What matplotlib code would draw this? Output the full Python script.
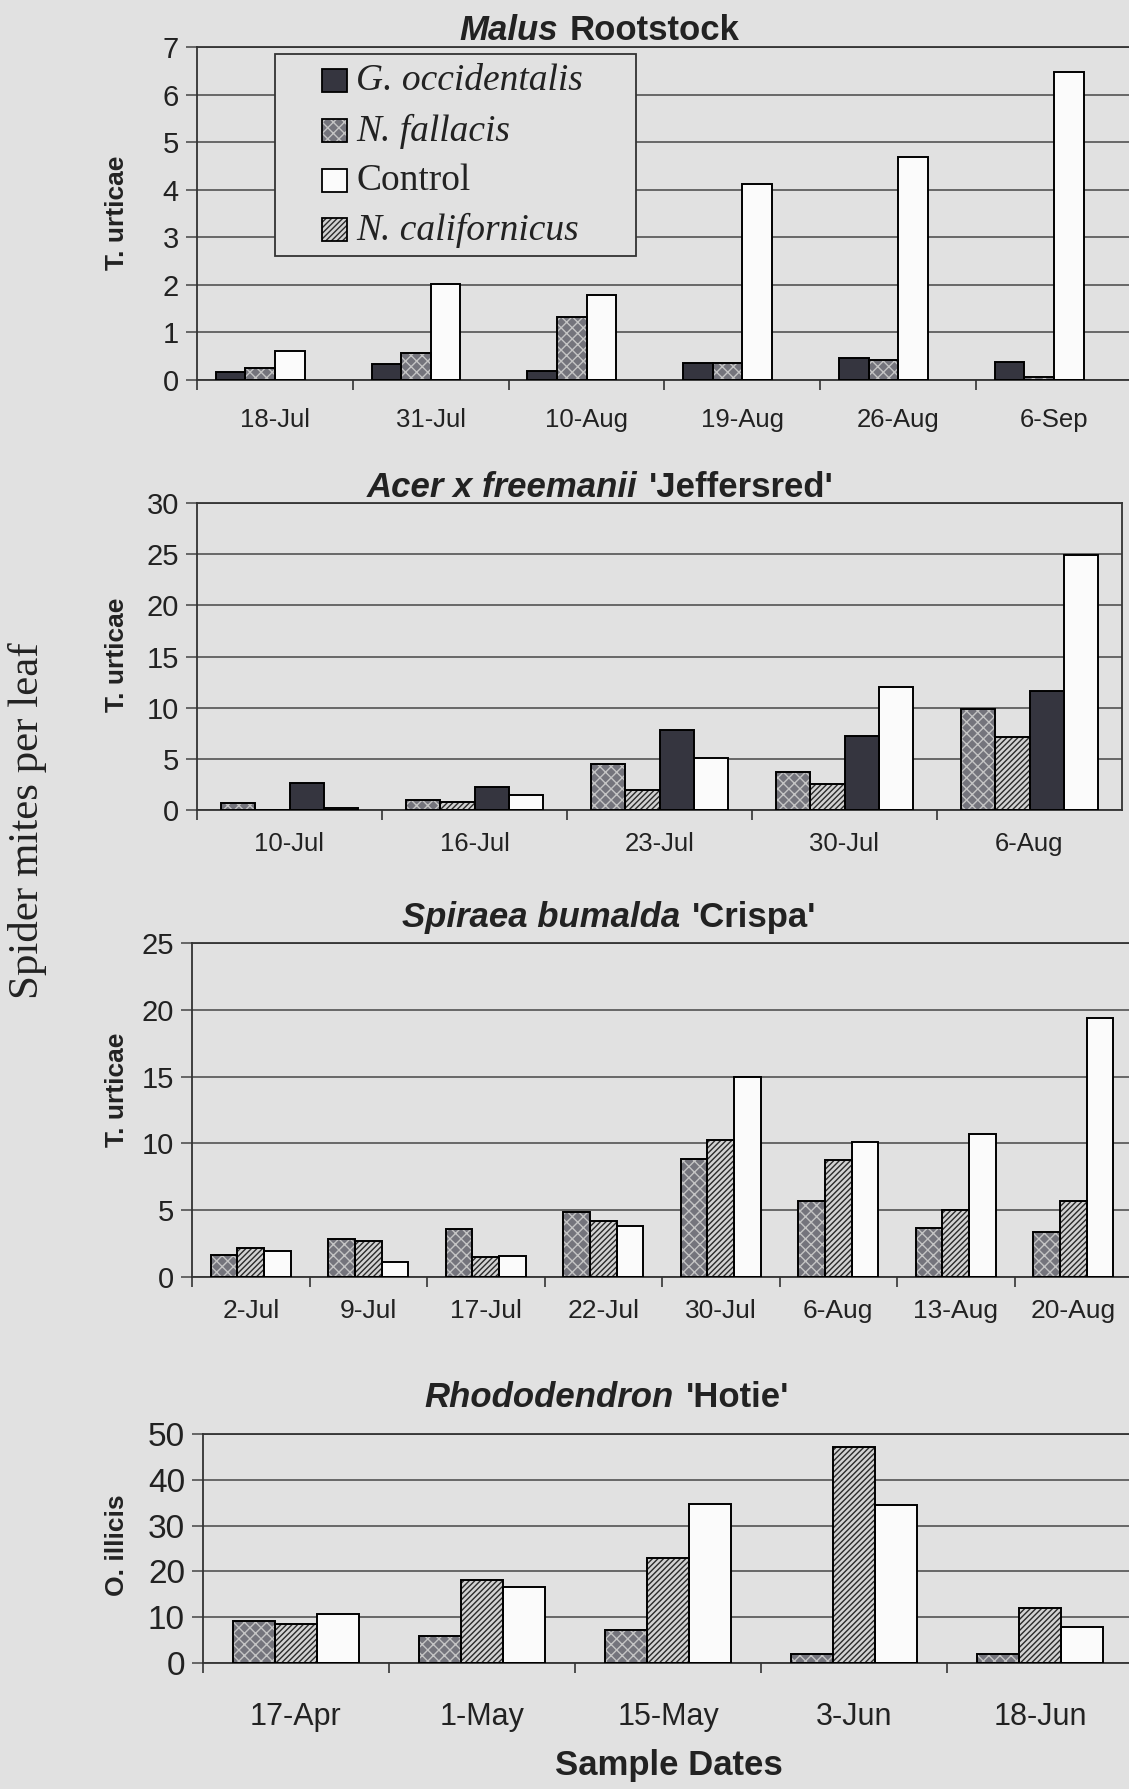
import numpy as np
import matplotlib
matplotlib.use("Agg")
import matplotlib.pyplot as plt
from matplotlib.patches import Rectangle
from matplotlib.ticker import FixedLocator

# --- data ---
malus_dates = ["18-Jul", "31-Jul", "10-Aug", "19-Aug", "26-Aug", "6-Sep"]
malus_g = [0.17, 0.33, 0.19, 0.35, 0.47, 0.37]
malus_nf = [0.26, 0.56, 1.33, 0.35, 0.41, 0.07]
malus_ctrl = [0.60, 2.02, 1.79, 4.13, 4.69, 6.47]

acer_dates = ["10-Jul", "16-Jul", "23-Jul", "30-Jul", "6-Aug"]
acer_nf = [0.7, 1.0, 4.5, 3.7, 9.9]
acer_nc = [0.0, 0.75, 2.0, 2.5, 7.15]
acer_g = [2.6, 2.2, 7.8, 7.2, 11.6]
acer_ctrl = [0.15, 1.5, 5.1, 12.0, 24.9]

spir_dates = ["2-Jul", "9-Jul", "17-Jul", "22-Jul", "30-Jul", "6-Aug", "13-Aug", "20-Aug"]
spir_nf = [1.63, 2.83, 3.6, 4.9, 8.8, 5.7, 3.7, 3.4]
spir_nc = [2.18, 2.68, 1.47, 4.2, 10.26, 8.76, 5.0, 5.7]
spir_ctrl = [1.93, 1.13, 1.55, 3.8, 15.0, 10.1, 10.7, 19.4]

rhodo_dates = ["17-Apr", "1-May", "15-May", "3-Jun", "18-Jun"]
rhodo_nf = [9.1, 6.0, 7.3, 2.0, 1.95]
rhodo_nc = [8.6, 18.2, 23.0, 47.1, 12.0]
rhodo_ctrl = [10.7, 16.7, 34.8, 34.6, 7.9]

legend_keys = ["G", "NF", "C", "NC"]
legend_labels = ["G. occidentalis", "N. fallacis", "Control", "N. californicus"]

BG = "#e1e1e1"
W, H = 1129, 1789
SANS = ["Liberation Sans", "DejaVu Sans"]
SERIF = ["Liberation Serif", "DejaVu Serif"]

plt.rcParams["hatch.linewidth"] = 1.0

# fill, hatch, hatch colour
STYLES = {
    "G": ("#35353f", None, None),
    "NF": ("#74747c", "xxx", "#c4c4c4"),
    "C": ("#fbfbfb", None, None),
    "NC": ("#d2d2d2", "//////", "#2a2a2a"),
}


def px_axes(left, right, top, bottom):
    return fig.add_axes([left / W, 1 - bottom / H, (right - left) / W, (bottom - top) / H])


def draw_bars(ax, x, vals, off, w, key):
    fc, hatch, hc = STYLES[key]
    ax.bar(x + off, vals, w, color=fc, edgecolor="none", zorder=2)
    if hatch:
        ax.bar(x + off, vals, w, color="none", edgecolor=hc, hatch=hatch, linewidth=0, zorder=3)
    ax.bar(x + off, vals, w, color="none", edgecolor="black", linewidth=1.4, zorder=4)


def panel(ax, dates, series, w, ymax, ystep, xfs, yfs, xpad):
    n = len(dates)
    x = np.arange(n)
    k = len(series)
    for i, (key, vals) in enumerate(series):
        if vals is None:
            continue
        draw_bars(ax, x, np.array(vals), (i - (k - 1) / 2) * w, w, key)
    ax.set_xlim(-0.5, n - 0.5)
    ax.set_ylim(0, ymax)
    ax.set_facecolor(BG)
    yt = np.arange(0, ymax + 0.01, ystep)
    ax.set_yticks(yt)
    ax.set_yticklabels([f"{v:g}" for v in yt], fontsize=yfs, family=SANS, color="#222")
    ax.set_xticks(x)
    ax.set_xticklabels(dates, fontsize=xfs, family=SANS, color="#222")
    ax.xaxis.set_minor_locator(FixedLocator(np.arange(-0.5, n - 0.5, 1.0)))
    ax.tick_params(axis="x", which="major", length=0, pad=xpad)
    ax.tick_params(axis="x", which="minor", length=7, width=1.2, color="#333", direction="out")
    ax.tick_params(axis="y", length=8, width=1.1, color="#444", pad=5)
    ax.yaxis.grid(True, color="#474747", linewidth=1.1)
    ax.set_axisbelow(True)
    for s in ax.spines.values():
        s.set_color("#333")
        s.set_linewidth(1.3)


def title(split, base, ital, rest):
    fig.text((split - 6) / W, 1 - base / H, ital, ha="right", va="baseline",
             fontsize=25, fontweight="bold", style="italic", family=SANS, color="#222")
    fig.text((split + 6) / W, 1 - base / H, rest, ha="left", va="baseline",
             fontsize=25, fontweight="bold", family=SANS, color="#222")


def side_label(y, text):
    fig.text(117 / W, 1 - y / H, text, rotation=90, ha="center", va="center",
             fontsize=19, fontweight="bold", family=SANS, color="#222")


fig = plt.figure(figsize=(W / 100, H / 100), dpi=100, facecolor=BG)

# Malus rootstock
ax1 = px_axes(197, 1132, 47, 380)
panel(ax1, malus_dates, [("G", malus_g), ("NF", malus_nf), ("C", malus_ctrl), ("NC", None)],
      0.19, 7, 1, 18.5, 21, 20)
title(564, 40, "Malus", "Rootstock")
side_label(213, "T. urticae")

# Acer x freemanii
ax2 = px_axes(197, 1122, 503, 810)
panel(ax2, acer_dates, [("NF", acer_nf), ("NC", acer_nc), ("G", acer_g), ("C", acer_ctrl)],
      0.184, 30, 5, 18.5, 21, 16)
title(643, 497, "Acer x freemanii", "'Jeffersred'")
side_label(655, "T. urticae")

# Spiraea bumalda
ax3 = px_axes(192, 1132, 943, 1277)
panel(ax3, spir_dates, [("NF", spir_nf), ("NC", spir_nc), ("C", spir_ctrl)],
      0.227, 25, 5, 19, 21, 16)
title(686, 927, "Spiraea bumalda", "'Crispa'")
side_label(1090, "T. urticae")

# Rhododendron
ax4 = px_axes(203, 1133, 1434, 1663)
panel(ax4, rhodo_dates, [("NF", rhodo_nf), ("NC", rhodo_nc), ("C", rhodo_ctrl)],
      0.226, 50, 10, 22, 24, 28)
title(680, 1407, "Rhododendron", "'Hotie'")
side_label(1545, "O. illicis")

# legend drawn on an overlay in pixel coordinates
ov = fig.add_axes([0, 0, 1, 1], zorder=10)
ov.set_xlim(0, W)
ov.set_ylim(H, 0)
ov.axis("off")
ov.add_patch(Rectangle((275, 54), 361, 202, facecolor=BG, edgecolor="#333", linewidth=1.3))
row_y = [81, 131, 181, 230]
for key, lab, yc in zip(legend_keys, legend_labels, row_y):
    fc, hatch, hc = STYLES[key]
    ov.add_patch(Rectangle((322, yc - 12), 25, 23, facecolor=fc, edgecolor="none"))
    if hatch:
        ov.add_patch(Rectangle((322, yc - 12), 25, 23, facecolor="none", edgecolor=hc,
                               hatch=hatch, linewidth=0))
    ov.add_patch(Rectangle((322, yc - 12), 25, 23, facecolor="none", edgecolor="black",
                           linewidth=1.3))
    ov.text(356, yc, lab, ha="left", va="center", fontsize=27, family=SERIF, color="#222",
            style="normal" if lab == "Control" else "italic")

fig.text(28 / W, 1 - 821 / H, "Spider mites per leaf", rotation=90, ha="center", va="center",
         fontsize=31, family=SERIF, color="#222")
fig.text(669 / W, 1 - 1765 / H, "Sample Dates", ha="center", va="center",
         fontsize=25, fontweight="bold", family=SANS, color="#222")

fig.savefig("out.png", dpi=100, facecolor=BG)
